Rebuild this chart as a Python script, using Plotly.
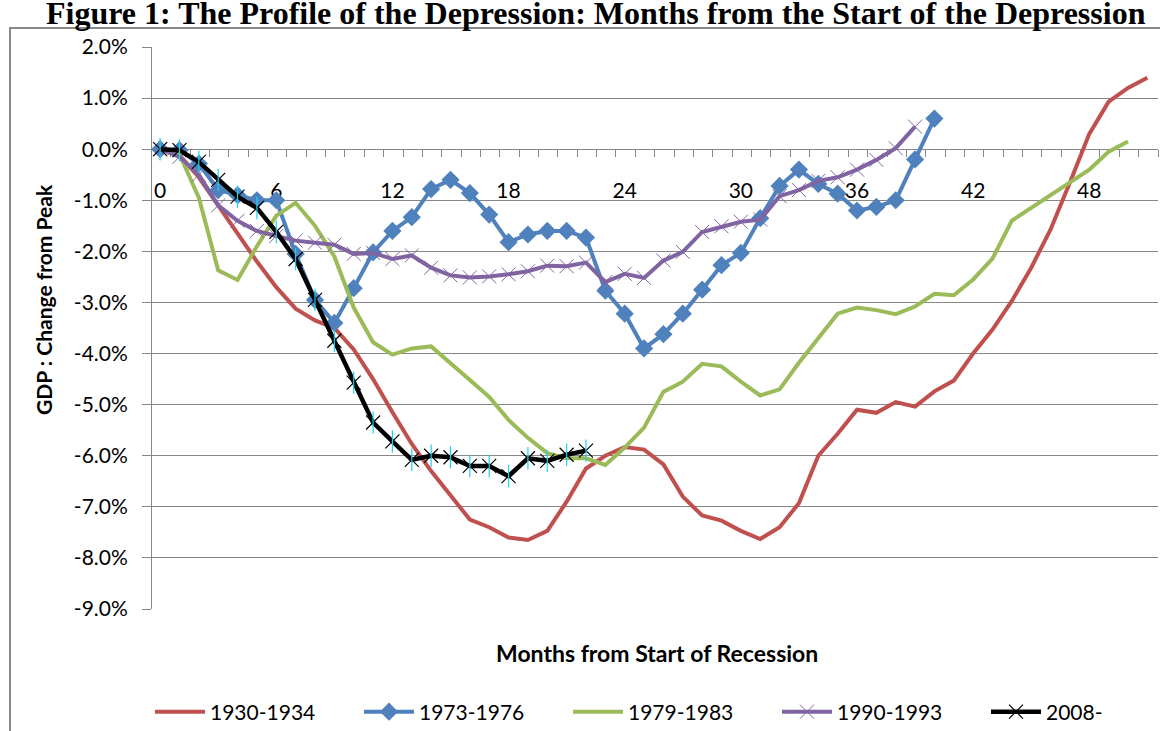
import plotly.graph_objects as go

# ---- data (GDP % change from peak, by month from start of recession) ----
months_1930 = list(range(0, 52))
gdp_1930 = [0, -0.12, -0.55, -1.1, -1.65, -2.2, -2.7, -3.12, -3.35, -3.5,
            -3.92, -4.5, -5.15, -5.77, -6.3, -6.78, -7.25, -7.4, -7.6, -7.65,
            -7.47, -6.9, -6.25, -6.0, -5.83, -5.88, -6.17, -6.8, -7.17, -7.27,
            -7.47, -7.63, -7.4, -6.93, -6.0, -5.57, -5.1, -5.16, -4.95, -5.04,
            -4.74, -4.53, -4.0, -3.53, -2.97, -2.32, -1.57, -0.65, 0.3, 0.93,
            1.2, 1.4]

months_1973 = list(range(0, 41))
gdp_1973 = [0, -0.02, -0.28, -0.8, -0.9, -1.0, -1.0, -2.05, -2.95, -3.4,
            -2.72, -2.02, -1.6, -1.33, -0.78, -0.6, -0.86, -1.28, -1.82, -1.67,
            -1.6, -1.6, -1.73, -2.77, -3.22, -3.9, -3.62, -3.22, -2.75, -2.27,
            -2.03, -1.35, -0.72, -0.4, -0.68, -0.87, -1.2, -1.13, -1.0, -0.2,
            0.6]

months_1979 = list(range(0, 51))
gdp_1979 = [0, -0.1, -0.95, -2.37, -2.56, -1.9, -1.3, -1.05, -1.5, -2.1,
            -3.1, -3.78, -4.02, -3.9, -3.86, -4.2, -4.52, -4.85, -5.3, -5.65,
            -5.95, -6.05, -6.05, -6.18, -5.84, -5.45, -4.75, -4.55, -4.2, -4.25,
            -4.55, -4.82, -4.7, -4.18, -3.7, -3.22, -3.1, -3.15, -3.23, -3.08,
            -2.83, -2.86, -2.55, -2.14, -1.4, -1.15, -0.9, -0.65, -0.4, -0.05,
            0.15]

months_1990 = list(range(0, 40))
gdp_1990 = [0, -0.15, -0.5, -1.1, -1.4, -1.6, -1.7, -1.79, -1.83, -1.87,
            -2.05, -2.03, -2.15, -2.08, -2.32, -2.47, -2.51, -2.49, -2.45, -2.39,
            -2.28, -2.29, -2.22, -2.6, -2.44, -2.52, -2.18, -2.01, -1.62, -1.51,
            -1.42, -1.38, -0.92, -0.8, -0.62, -0.55, -0.4, -0.21, 0.02, 0.44]

months_2008 = list(range(0, 23))
gdp_2008 = [0, -0.02, -0.25, -0.6, -0.93, -1.15, -1.62, -2.15, -2.95, -3.75,
            -4.57, -5.35, -5.72, -6.08, -6.0, -6.03, -6.2, -6.2, -6.4, -6.05,
            -6.1, -5.98, -5.9]

x_tick_vals = [0, 6, 12, 18, 24, 30, 36, 42, 48]
x_tick_text = ["0", "6", "12", "18", "24", "30", "36", "42", "48"]
y_tick_vals = [2, 1, 0, -1, -2, -3, -4, -5, -6, -7, -8, -9]
y_tick_text = ["2.0%", "1.0%", "0.0%", "-1.0%", "-2.0%", "-3.0%", "-4.0%",
               "-5.0%", "-6.0%", "-7.0%", "-8.0%", "-9.0%"]

title_text = "Figure 1: The Profile of the Depression: Months from the Start of the Depression"
x_title = "Months from Start of Recession"
y_title = "GDP : Change from Peak"

# ---- layout geometry (pixels) ----
W, H = 1160, 731
ML, MR, MT, MB = 152, 2, 47, 122
PW, PH = W - ML - MR, H - MT - MB
BOTTOM = MT + PH


def px_x(p):
    return (p - ML) / PW


def px_y(p):
    return (BOTTOM - p) / PH


GRID = "#878787"
FONT = "Lato"

fig = go.Figure()

fig.add_trace(go.Scatter(x=months_1930, y=gdp_1930, name="1930-1934", mode="lines",
                         line=dict(color="#C0504D", width=4)))
fig.add_trace(go.Scatter(x=months_1973, y=gdp_1973, name="1973-1976", mode="lines+markers",
                         line=dict(color="#4F81BD", width=4),
                         marker=dict(symbol="diamond", size=14, color="#4F81BD")))
fig.add_trace(go.Scatter(x=months_1979, y=gdp_1979, name="1979-1983", mode="lines",
                         line=dict(color="#9BBB59", width=4)))
fig.add_trace(go.Scatter(x=months_1990, y=gdp_1990, name="1990-1993", mode="lines+markers",
                         line=dict(color="#8064A2", width=4),
                         marker=dict(symbol="x-thin-open", size=14,
                                     line=dict(color="#9A88C2", width=1))))
fig.add_trace(go.Scatter(x=months_2008, y=gdp_2008, name="2008-", mode="lines+markers",
                         line=dict(color="#000000", width=4.5),
                         marker=dict(symbol="x-thin-open", size=14,
                                     line=dict(color="#4BACC6", width=1.2))))
fig.add_trace(go.Scatter(x=months_2008, y=gdp_2008, name="2008-", mode="markers",
                         showlegend=False, legendgroup="2008",
                         marker=dict(symbol="line-ns-open", size=16,
                                     line=dict(color="#4BACC6", width=1.2))))

fig.update_layout(
    width=W, height=H,
    margin=dict(l=ML, r=MR, t=MT, b=MB, autoexpand=False),
    paper_bgcolor="white", plot_bgcolor="white",
    font=dict(family=FONT, size=21, color="black"),
    showlegend=True,
    legend=dict(orientation="h", x=px_x(150), xanchor="left",
                y=px_y(712), yanchor="middle",
                font=dict(family=FONT, size=21, color="black"),
                itemwidth=50, entrywidth=144, entrywidthmode="pixels",
                bgcolor="rgba(0,0,0,0)", traceorder="normal"),
    xaxis=dict(range=[-0.42, 51.55], anchor="free", position=9 / 11,
               showgrid=False, zeroline=False,
               showline=True, linecolor=GRID, linewidth=1,
               tickmode="array", tickvals=x_tick_vals, ticktext=x_tick_text,
               ticks="", ticklabelstandoff=23,
               tickfont=dict(family=FONT, size=21, color="black"),
               minor=dict(ticks="outside", tick0=-0.45, dtick=1, ticklen=7,
                          tickcolor=GRID, tickwidth=1, showgrid=False),
               layer="below traces", automargin=False),
    yaxis=dict(range=[-9, 2], showgrid=True, gridcolor=GRID, gridwidth=1,
               zeroline=False, showline=True, linecolor=GRID, linewidth=1,
               tickmode="array", tickvals=y_tick_vals, ticktext=y_tick_text,
               ticks="outside", ticklen=9, tickcolor=GRID, tickwidth=1,
               ticklabelstandoff=10,
               tickfont=dict(family=FONT, size=21, color="black"),
               layer="below traces", automargin=False),
    annotations=[
        dict(text="<b>" + title_text + "</b>", xref="paper", yref="paper",
             x=px_x(596), y=px_y(13), xanchor="center", yanchor="middle",
             showarrow=False,
             font=dict(family="Liberation Serif", size=32, color="black")),
        dict(text="<b>" + x_title + "</b>", xref="paper", yref="paper",
             x=px_x(657), y=px_y(653), xanchor="center", yanchor="middle",
             showarrow=False, font=dict(family=FONT, size=23, color="black")),
        dict(text="<b>" + y_title + "</b>", xref="paper", yref="paper",
             x=px_x(43), y=px_y(300), xanchor="center", yanchor="middle",
             textangle=-90, showarrow=False,
             font=dict(family=FONT, size=21, color="black")),
    ],
    shapes=[
        dict(type="rect", xref="paper", yref="paper",
             x0=px_x(10), x1=px_x(1175), y0=px_y(28), y1=px_y(760),
             line=dict(color="#898989", width=2), fillcolor="rgba(0,0,0,0)",
             layer="below"),
    ],
)

fig.write_html("out.html",
               config={"displayModeBar": False},
               post_script="document.body.style.margin='0';"
                           "document.body.style.overflow='hidden';")
